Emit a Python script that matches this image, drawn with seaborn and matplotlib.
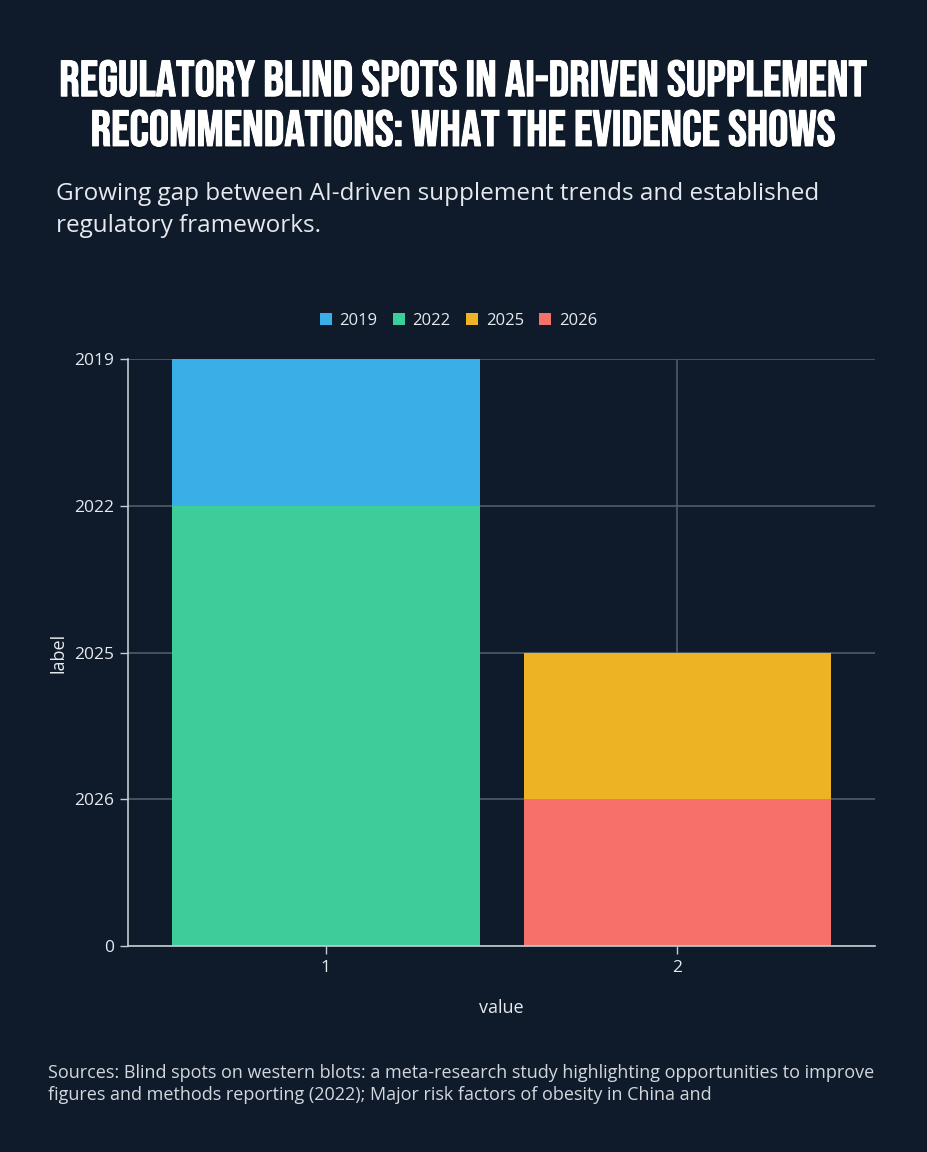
import pandas as pd
import numpy as np
import matplotlib
matplotlib.use("Agg")
import matplotlib.pyplot as plt
import matplotlib.patheffects as pe
import seaborn as sns

# data
labels = ["2019", "2022", "2025", "2026"]
values = [1, 1, 2, 2]          # x position (the "value" axis)
heights = [1, 3, 1, 1]         # stacked segment size
ytick_labels = ["0", "2026", "2025", "2022", "2019"]
colors = ["#3aaee6", "#3ccd9a", "#edb325", "#f7716b"]

bg = "#0f1b2b"
fg = "#e6e9ee"

df = pd.DataFrame({"label": labels, "value": values, "count": heights})

sns.set_theme(style="dark")
plt.rcParams["font.family"] = ["Open Sans", "DejaVu Sans"]

fig = plt.figure(figsize=(9.28, 11.52), dpi=100, facecolor=bg)
ax = fig.add_axes([0.138, 0.179, 0.805, 0.509])
ax.set_facecolor(bg)

sns.histplot(data=df, x="value", weights="count", hue="label", hue_order=labels,
             palette=colors, multiple="stack", discrete=True, shrink=0.875,
             alpha=1, linewidth=0, ax=ax)

ax.set_xlim(0.4375, 2.5625)
ax.set_ylim(0, 4)
ax.set_xticks([1, 2])
ax.set_xticklabels(["1", "2"])
ax.set_yticks([0, 1, 2, 3, 4])
ax.set_yticklabels(ytick_labels)
ax.set_xlabel("value", color=fg, fontsize=13, labelpad=17)
ax.set_ylabel("label", color=fg, fontsize=13, labelpad=5)

ax.set_axisbelow(True)
ax.grid(True, color="#4f5b6b", linewidth=1.2)
for s in ["top", "right"]:
    ax.spines[s].set_visible(False)
for s in ["left", "bottom"]:
    ax.spines[s].set_color("#c5cbd3")
    ax.spines[s].set_linewidth(1.2)
ax.tick_params(colors="#c5cbd3", labelcolor=fg, labelsize=12.5, length=6, width=1,
               left=True, bottom=True, pad=4)

sns.move_legend(ax, "lower center", bbox_to_anchor=(0.442, 1.026), ncol=4,
                frameon=False, title=None, fontsize=12, handlelength=0.75,
                handleheight=0.75, handletextpad=0.45, columnspacing=0.9)
for t in ax.get_legend().get_texts():
    t.set_color(fg)

fig.text(0.5, 0.9106, "REGULATORY BLIND SPOTS IN AI-DRIVEN SUPPLEMENT\nRECOMMENDATIONS: WHAT THE EVIDENCE SHOWS",
         ha="center", va="center", color="white", fontsize=36.5,
         family=["Bebas Neue", "DejaVu Sans"], linespacing=1.35,
         path_effects=[pe.withSimplePatchShadow(offset=(0, -2), shadow_rgbFace="black", alpha=0.3),
                       pe.withStroke(linewidth=0.8, foreground="white")])
fig.text(0.06, 0.818, "Growing gap between AI-driven supplement trends and established\nregulatory frameworks.",
         ha="left", va="center", color=fg, fontsize=17.5, linespacing=1.45)
fig.text(0.052, 0.059, "Sources: Blind spots on western blots: a meta-research study highlighting opportunities to improve\nfigures and methods reporting (2022); Major risk factors of obesity in China and",
         ha="left", va="center", color="#d3d7dd", fontsize=13, linespacing=1.3)

fig.savefig("out.png", dpi=100, facecolor=bg)
